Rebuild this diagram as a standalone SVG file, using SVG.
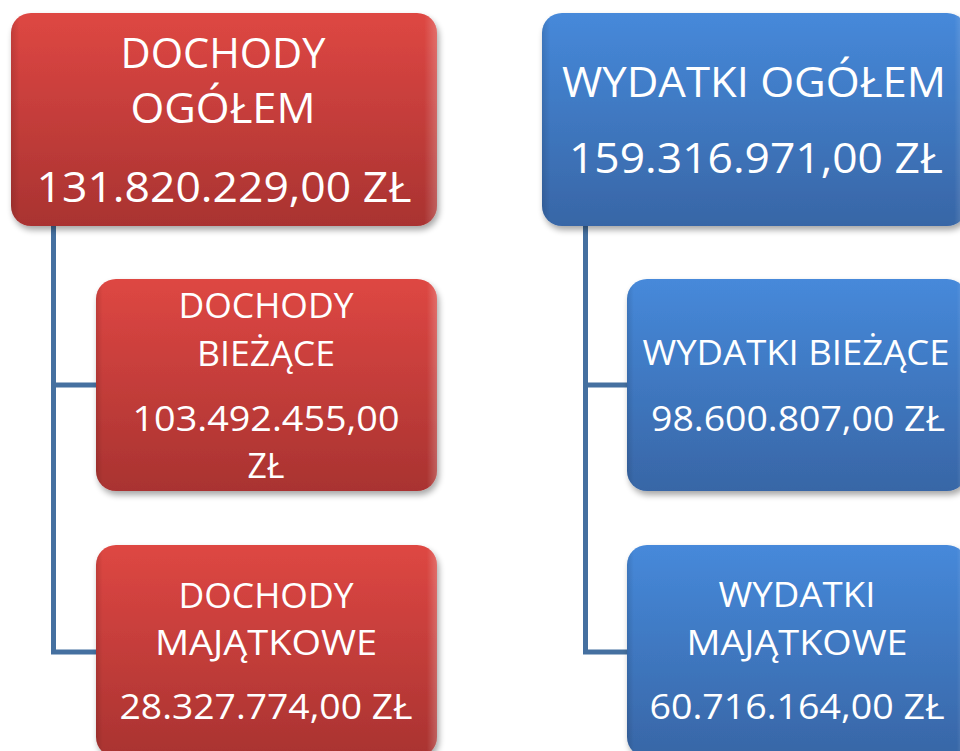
<svg xmlns="http://www.w3.org/2000/svg" width="960" height="751" viewBox="0 0 960 751">
<defs>
<linearGradient id="gRed" x1="0" y1="0" x2="0" y2="1">
<stop offset="0" stop-color="#DE4743"/>
<stop offset="1" stop-color="#A93331"/>
</linearGradient>
<linearGradient id="gBlue" x1="0" y1="0" x2="0" y2="1">
<stop offset="0" stop-color="#4689DA"/>
<stop offset="1" stop-color="#3866A6"/>
</linearGradient>
<linearGradient id="gEdge" x1="0" y1="0" x2="1" y2="0">
<stop offset="0" stop-color="#000" stop-opacity="0.12"/>
<stop offset="0.02" stop-color="#000" stop-opacity="0"/>
<stop offset="0.97" stop-color="#fff" stop-opacity="0"/>
<stop offset="1" stop-color="#fff" stop-opacity="0.22"/>
</linearGradient>
<filter id="sh" x="-10%" y="-10%" width="125%" height="130%">
<feGaussianBlur in="SourceAlpha" stdDeviation="3"/>
<feOffset dx="2" dy="4" result="b"/>
<feComponentTransfer><feFuncA type="linear" slope="0.35"/></feComponentTransfer>
<feMerge><feMergeNode/><feMergeNode in="SourceGraphic"/></feMerge>
</filter>
</defs>
<style>
.red{fill:url(#gRed);filter:url(#sh)}
.blue{fill:url(#gBlue);filter:url(#sh)}
.edge{fill:url(#gEdge)}
text{font-family:"Open Sans","Noto Sans","Liberation Sans",sans-serif;fill:#fff;text-anchor:middle}
.big{font-size:42px}
.mid{font-size:35px}
.conn{fill:none;stroke:#4570A0;stroke-width:5}
</style>
<rect width="960" height="751" fill="#fff"/>
<g id="connectors">
<polyline class="conn" points="53.5,226 53.5,652 97,652"/>
<line class="conn" x1="53.5" y1="385" x2="97" y2="385"/>
<polyline class="conn" points="585.5,226 585.5,652 628,652"/>
<line class="conn" x1="585.5" y1="385" x2="628" y2="385"/>
</g>
<g id="dochody-ogolem">
<rect class="red" x="11" y="13" width="426" height="213" rx="20"/>
<rect class="edge" x="11" y="13" width="426" height="213" rx="20"/>
<text class="big" x="223" y="68" textLength="205" lengthAdjust="spacingAndGlyphs">DOCHODY</text>
<text class="big" x="223" y="123" textLength="185" lengthAdjust="spacingAndGlyphs">OGÓŁEM</text>
<text class="big" x="224" y="202" textLength="375" lengthAdjust="spacingAndGlyphs">131.820.229,00 ZŁ</text>
</g>
<g id="dochody-biezace">
<rect class="red" x="96" y="279" width="341" height="212" rx="20"/>
<rect class="edge" x="96" y="279" width="341" height="212" rx="20"/>
<text class="mid" x="266" y="318" textLength="175" lengthAdjust="spacingAndGlyphs">DOCHODY</text>
<text class="mid" x="266" y="366" textLength="138" lengthAdjust="spacingAndGlyphs">BIEŻĄCE</text>
<text class="mid" x="266" y="431" textLength="267" lengthAdjust="spacingAndGlyphs">103.492.455,00</text>
<text class="mid" x="266" y="478" textLength="37" lengthAdjust="spacingAndGlyphs">ZŁ</text>
</g>
<g id="dochody-majatkowe">
<rect class="red" x="96" y="545" width="341" height="212" rx="20"/>
<rect class="edge" x="96" y="545" width="341" height="212" rx="20"/>
<text class="mid" x="266" y="608" textLength="175" lengthAdjust="spacingAndGlyphs">DOCHODY</text>
<text class="mid" x="266" y="655" textLength="222" lengthAdjust="spacingAndGlyphs">MAJĄTKOWE</text>
<text class="mid" x="266" y="719" textLength="293" lengthAdjust="spacingAndGlyphs">28.327.774,00 ZŁ</text>
</g>
<g id="wydatki-ogolem">
<rect class="blue" x="542" y="13" width="425" height="213" rx="20"/>
<rect class="edge" x="542" y="13" width="425" height="213" rx="20"/>
<text class="big" x="754" y="97" textLength="384" lengthAdjust="spacingAndGlyphs">WYDATKI OGÓŁEM</text>
<text class="big" x="756" y="173" textLength="374" lengthAdjust="spacingAndGlyphs">159.316.971,00 ZŁ</text>
</g>
<g id="wydatki-biezace">
<rect class="blue" x="627" y="279" width="340" height="212" rx="20"/>
<rect class="edge" x="627" y="279" width="340" height="212" rx="20"/>
<text class="mid" x="796" y="365" textLength="307" lengthAdjust="spacingAndGlyphs">WYDATKI BIEŻĄCE</text>
<text class="mid" x="798" y="431" textLength="294" lengthAdjust="spacingAndGlyphs">98.600.807,00 ZŁ</text>
</g>
<g id="wydatki-majatkowe">
<rect class="blue" x="627" y="545" width="340" height="212" rx="20"/>
<rect class="edge" x="627" y="545" width="340" height="212" rx="20"/>
<text class="mid" x="797" y="607" textLength="157" lengthAdjust="spacingAndGlyphs">WYDATKI</text>
<text class="mid" x="797" y="655" textLength="221" lengthAdjust="spacingAndGlyphs">MAJĄTKOWE</text>
<text class="mid" x="797" y="719" textLength="295" lengthAdjust="spacingAndGlyphs">60.716.164,00 ZŁ</text>
</g>
</svg>
